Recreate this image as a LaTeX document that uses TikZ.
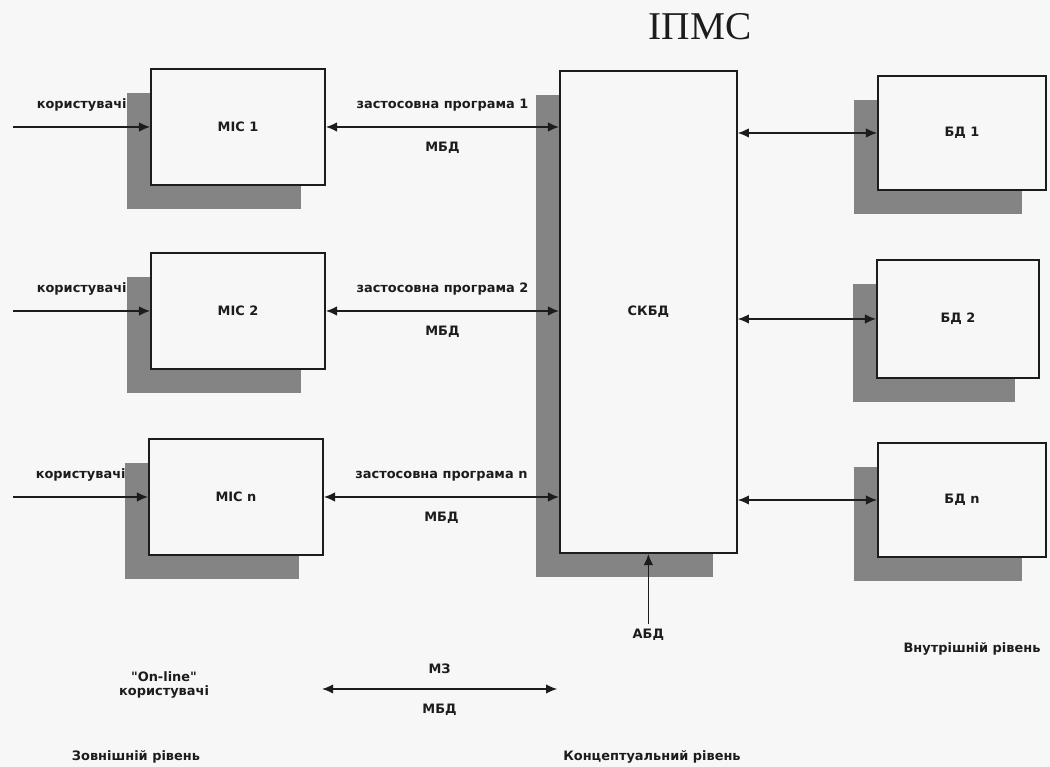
\documentclass[tikz,border=0pt]{standalone}
\usepackage{fontspec}
\setmainfont{DejaVu Sans}
\newfontfamily\titlefont{Liberation Serif}
\usepackage{tikz}
\usepackage{xcolor}
\usetikzlibrary{arrows.meta, positioning, shadows, calc}
\definecolor{ipmsInk}{RGB}{28,28,28}
\definecolor{ipmsShade}{RGB}{132,132,132}
\definecolor{ipmsPaper}{RGB}{247,247,247}
\newcommand{\lblfont}{\fontsize{9.2}{10.5}\selectfont\bfseries}

\begin{document}
\begin{tikzpicture}[
      unit/.style={draw=ipmsInk, line width=1.2pt, fill=ipmsPaper, minimum width=4.35cm, minimum height=2.9cm, font=\lblfont, text=ipmsInk,
        drop shadow={shadow xshift=-0.6cm, shadow yshift=-0.6cm, fill=ipmsShade, opacity=1}},
      small/.style={font=\lblfont, text=ipmsInk},
      link/.style={draw=ipmsInk, line width=1.2pt, -{Latex[length=2.8mm, width=2.4mm]}},
      both/.style={link, {Latex[length=2.8mm, width=2.4mm]}-{Latex[length=2.8mm, width=2.4mm]}}
    ]
    \useasboundingbox[fill=ipmsPaper] (0,0) rectangle (26.25,19.175);
    \node[font=\titlefont\fontsize{28}{30}\selectfont, text=ipmsInk] (title) at (17.5,18.5) {ІПМС};

    \node[unit] (mic1) at (5.95,16.0) {МІС 1};
    \node[unit] (mic2) at (5.95,11.4) {МІС 2};
    \node[unit] (micn) at (5.9,6.75) {МІС n};
    \node[unit, minimum width=4.425cm, minimum height=12.05cm] (skbd) at (16.21,11.375) {СКБД};
    \node[unit, minimum width=4.2cm, minimum height=2.85cm] (bd1) at (24.05,15.85) {БД 1};
    \node[unit, minimum width=4.05cm, minimum height=2.95cm] (bd2) at (23.95,11.2) {БД 2};
    \node[unit, minimum width=4.2cm, minimum height=2.85cm] (bdn) at (24.05,6.675) {БД n};

    \foreach \m in {1,2,n} {
      \coordinate (user\m) at (0.33,0 |- mic\m.west);
      \draw[link] (user\m) -- node[small, above=2.5mm] (who\m) {користувачі} (mic\m.west);
      \draw[both] (mic\m.east) -- node[small, above=2.5mm] (prog\m) {застосовна програма \m}
        node[small, below=2.5mm] (mbd\m) {МБД} (mic\m.east -| skbd.west);
      \draw[both] (skbd.east |- bd\m.west) -- (bd\m.west);
    }

    \node[small] (abd) at (16.21,3.3) {АБД};
    \draw[link] (abd) -- (skbd);

    \node[small, align=center] (online) at (4.1,2.05) {\textquotedbl On-line\textquotedbl\\користувачі};
    \coordinate (mzL) at (8.05,1.95);
    \coordinate (mzR) at (13.93,1.95);
    \draw[both] (mzL) -- node[small, above=2.5mm] (mz) {МЗ} node[small, below=2.5mm] (mbdz) {МБД} (mzR);

    \node[small] (outer) at (3.4,0.25) {Зовнішній рівень};
    \node[small] (concept) at (16.3,0.25) {Концептуальний рівень};
    \node[small] (inner) at (24.3,2.95) {Внутрішній рівень};
  \end{tikzpicture}
\end{document}
